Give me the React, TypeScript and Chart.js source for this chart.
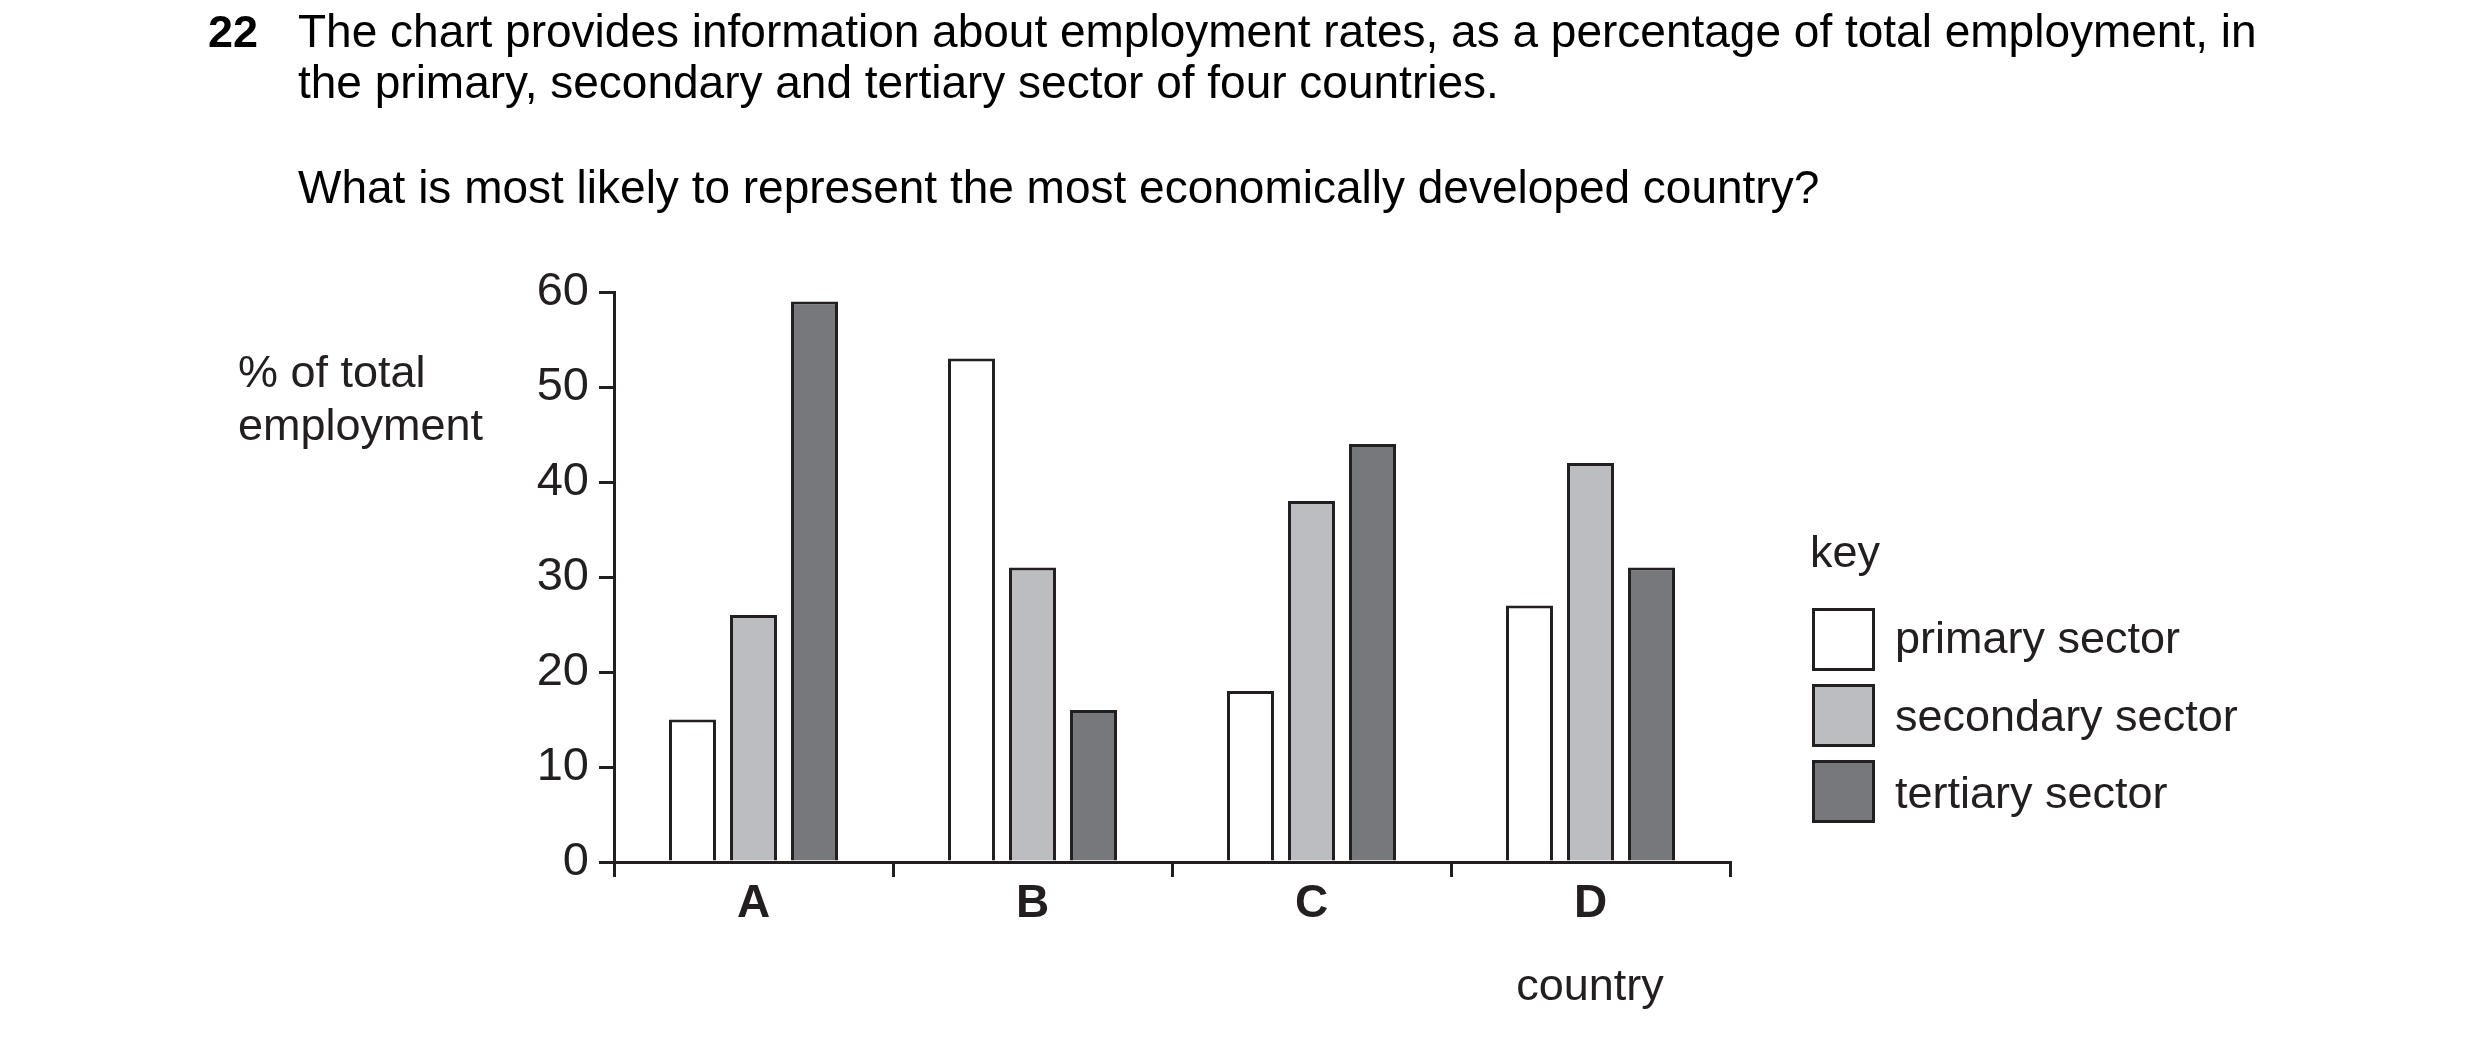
import React, { useRef, useEffect } from 'react';
import { Chart, registerables } from 'chart.js';

Chart.register(...registerables);

const FONT = "'Liberation Sans', Arial, Helvetica, sans-serif";
const INK = '#231f20';

const countries = ['A', 'B', 'C', 'D'];
const primary = [15, 53, 18, 27];
const secondary = [26, 31, 38, 42];
const tertiary = [59, 16, 44, 31];
const sectorLabels = ['primary sector', 'secondary sector', 'tertiary sector'];
const sectorColors = ['#ffffff', '#bcbdc0', '#77787b'];
const yTicks = [0, 10, 20, 30, 40, 50, 60];

// draws the key, the y axis title and the "country" label
const annotations = {
  id: 'annotations',
  afterDraw(chart: any) {
    const ctx = chart.ctx;
    ctx.save();
    ctx.fillStyle = INK;
    ctx.font = `45px ${FONT}`;
    ctx.textAlign = 'left';
    ctx.textBaseline = 'alphabetic';
    ctx.fillText('% of total', 238, 387);
    ctx.fillText('employment', 238, 440);
    ctx.textAlign = 'center';
    ctx.fillText('country', 1590, 1000);

    ctx.textAlign = 'left';
    ctx.fillText('key', 1810, 567);
    chart.data.datasets.forEach((ds: any, i: number) => {
      const top = 608 + i * 76;
      ctx.fillStyle = ds.backgroundColor;
      ctx.fillRect(1812, top, 63, 63);
      ctx.strokeStyle = INK;
      ctx.lineWidth = 3;
      ctx.strokeRect(1813.5, top + 1.5, 60, 60);
      ctx.fillStyle = INK;
      ctx.fillText(ds.label, 1895, top + 45 + i * 1.5);
    });
    ctx.restore();
  },
};

const EmploymentChart: React.FC = () => {
  const canvasRef = useRef<HTMLCanvasElement>(null);
  const chartRef = useRef<Chart | null>(null);

  useEffect(() => {
    if (!canvasRef.current) return;
    const ctx = canvasRef.current.getContext('2d');
    if (!ctx) return;
    if (chartRef.current) chartRef.current.destroy();

    const series = [primary, secondary, tertiary];
    chartRef.current = new Chart(ctx, {
      type: 'bar',
      data: {
        labels: countries,
        datasets: series.map((data, i) => ({
          label: sectorLabels[i],
          data,
          backgroundColor: sectorColors[i],
          borderColor: INK,
          borderWidth: 3,
          categoryPercentage: 0.656,
          barPercentage: 0.77,
        })),
      },
      options: {
        responsive: false,
        animation: false,
        devicePixelRatio: 1,
        layout: { padding: { left: 400, right: 750, top: 292, bottom: 89 } },
        plugins: {
          legend: { display: false },
          title: { display: false },
          tooltip: { enabled: false },
        },
        scales: {
          x: {
            offset: true,
            afterFit: (scale: any) => { scale.height = 100; },
            grid: {
              offset: true,
              drawOnChartArea: false,
              drawTicks: true,
              tickLength: 15,
              color: INK,
              lineWidth: 3,
            },
            border: { display: true, color: INK, width: 3 },
            ticks: {
              color: INK,
              padding: 0,
              font: { family: FONT, size: 46, weight: 'bold' },
            },
          },
          y: {
            min: 0,
            max: 60,
            afterFit: (scale: any) => { scale.width = 214; },
            afterBuildTicks: (scale: any) => {
              scale.ticks = yTicks.map((v) => ({ value: v }));
            },
            grid: {
              drawOnChartArea: false,
              drawTicks: true,
              tickLength: 15,
              color: INK,
              lineWidth: 3,
            },
            border: { display: true, color: INK, width: 3 },
            ticks: {
              color: INK,
              padding: 10,
              font: { family: FONT, size: 47 },
            },
          },
        },
      },
      plugins: [annotations],
    });

    return () => {
      if (chartRef.current) {
        chartRef.current.destroy();
        chartRef.current = null;
      }
    };
  }, []);

  return <canvas ref={canvasRef} width={2480} height={1051} style={{ position: 'absolute', left: 0, top: 0 }} />;
};

const textStyle: React.CSSProperties = {
  position: 'absolute',
  fontFamily: FONT,
  fontSize: 46,
  lineHeight: '51px',
  color: '#000',
  margin: 0,
  whiteSpace: 'nowrap',
};

const App: React.FC = () => (
  <div style={{ position: 'absolute', left: 0, top: 0, width: 2480, height: 1051, background: '#fff' }}>
    <EmploymentChart />
    <div style={{ ...textStyle, left: 208, top: 6, fontWeight: 'bold', fontSize: 45 }}>22</div>
    <div style={{ ...textStyle, left: 298, top: 6 }}>
      The chart provides information about employment rates, as a percentage of total employment, in
      <br />
      the primary, secondary and tertiary sector of four countries.
    </div>
    <div style={{ ...textStyle, left: 298, top: 162 }}>
      What is most likely to represent the most economically developed country?
    </div>
  </div>
);

export default App;
